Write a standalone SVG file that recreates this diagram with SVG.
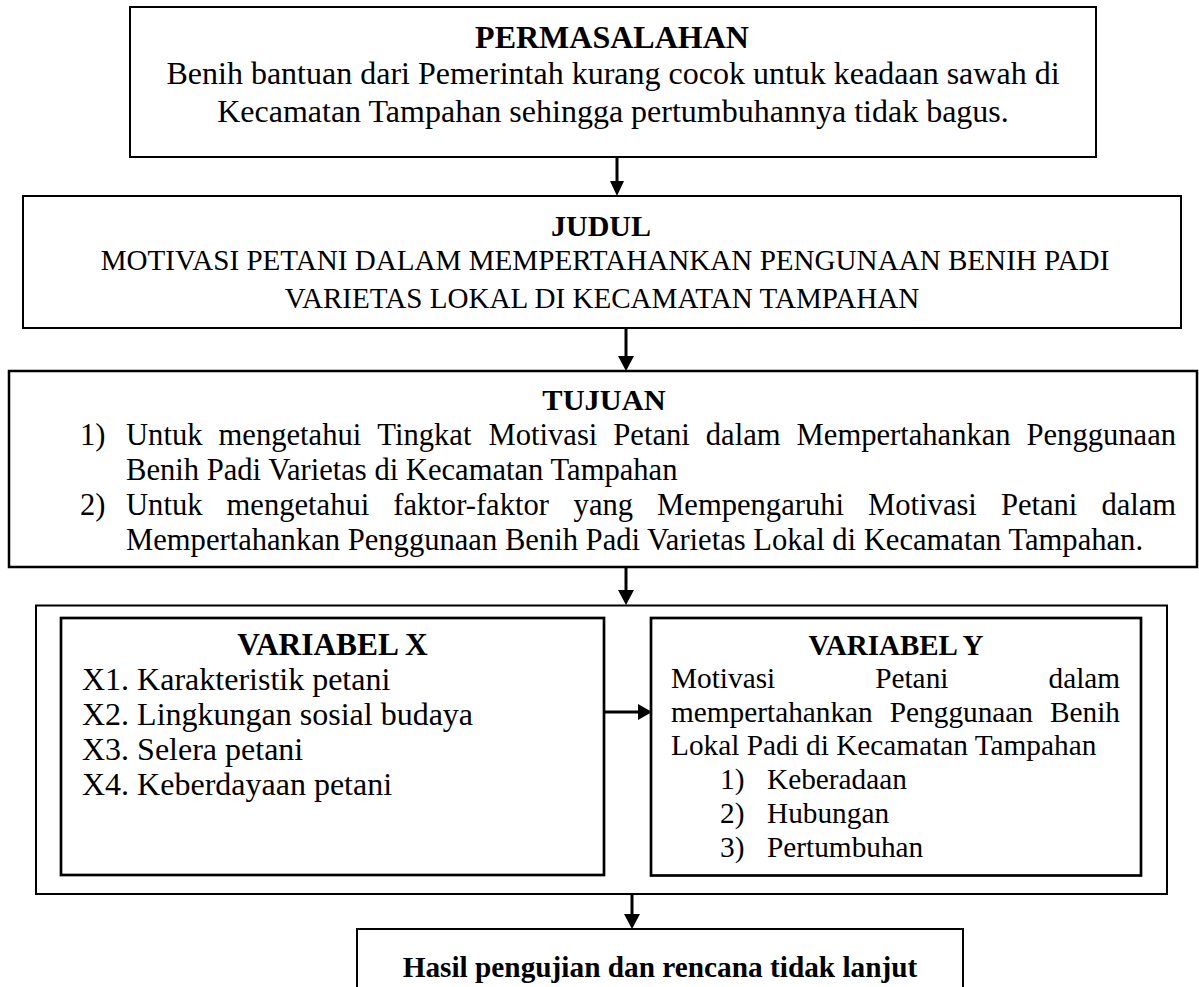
<svg xmlns="http://www.w3.org/2000/svg" width="1199" height="987" viewBox="0 0 1199 987">
<style>
text { font-family: "Liberation Serif", "Times New Roman", serif; fill: #000; }
.b { font-weight: bold; }
.c { text-anchor: middle; }
.box { fill: #fff; stroke: #000; }
.shaft { stroke: #000; stroke-width: 3; fill: none; }
.head { fill: #000; }
</style>
<rect x="0" y="0" width="1199" height="987" fill="#fff"/>

<g id="permasalahan">
<rect class="box" x="130" y="7" width="966" height="150" stroke-width="2"/>
<text class="b c" x="612" y="48" font-size="32">PERMASALAHAN</text>
<text class="c" x="613" y="84" font-size="32">Benih bantuan dari Pemerintah kurang cocok untuk keadaan sawah di</text>
<text class="c" x="613" y="122" font-size="32">Kecamatan Tampahan sehingga pertumbuhannya tidak bagus.</text>
</g>

<g id="judul">
<rect class="box" x="23" y="196" width="1158" height="132" stroke-width="2"/>
<text class="b c" x="601" y="236" font-size="30">JUDUL</text>
<text class="c" x="605" y="270" font-size="29.1">MOTIVASI PETANI DALAM MEMPERTAHANKAN PENGUNAAN BENIH PADI</text>
<text class="c" x="602" y="308" font-size="29.1">VARIETAS LOKAL DI KECAMATAN TAMPAHAN</text>
</g>

<g id="tujuan">
<rect class="box" x="9" y="371" width="1188" height="196" stroke-width="2.5"/>
<text class="b c" x="604" y="410" font-size="30.4">TUJUAN</text>
<text x="80" y="445" font-size="30.6">1)</text>
<text y="445" font-size="30.6"><tspan x="126">Untuk</tspan><tspan x="218.5">mengetahui</tspan><tspan x="377.3">Tingkat</tspan><tspan x="488.5">Motivasi</tspan><tspan x="613.3">Petani</tspan><tspan x="705.8">dalam</tspan><tspan x="796.6">Mempertahankan</tspan><tspan x="1026.5">Penggunaan</tspan></text>
<text x="126" y="480" font-size="30.6">Benih Padi Varietas di Kecamatan Tampahan</text>
<text x="80" y="515" font-size="30.6">2)</text>
<text y="515" font-size="30.6"><tspan x="126">Untuk</tspan><tspan x="226.5">mengetahui</tspan><tspan x="393.3">faktor-faktor</tspan><tspan x="573.6">yang</tspan><tspan x="657.1">Mempengaruhi</tspan><tspan x="868.1">Motivasi</tspan><tspan x="1000.9">Petani</tspan><tspan x="1101.4">dalam</tspan></text>
<text x="126" y="550" font-size="30.6">Mempertahankan Penggunaan Benih Padi Varietas Lokal di Kecamatan Tampahan.</text>
</g>

<g id="variabel">
<rect class="box" x="36" y="605.5" width="1131" height="288.5" stroke-width="2"/>
</g>

<g id="variabel-x">
<rect class="box" x="61" y="618" width="543" height="257" stroke-width="2.7"/>
<text class="b c" x="332.5" y="655" font-size="31.4">VARIABEL X</text>
<text x="82" y="690" font-size="32">X1. Karakteristik petani</text>
<text x="82" y="725" font-size="32">X2. Lingkungan sosial budaya</text>
<text x="82" y="760" font-size="32">X3. Selera petani</text>
<text x="82" y="795" font-size="32">X4. Keberdayaan petani</text>
</g>

<g id="variabel-y">
<rect class="box" x="651" y="618" width="490" height="257.5" stroke-width="2.7"/>
<text class="b c" x="896" y="655" font-size="29">VARIABEL Y</text>
<text y="688" font-size="29.3"><tspan x="671">Motivasi</tspan><tspan x="875.2">Petani</tspan><tspan x="1048.5">dalam</tspan></text>
<text y="722" font-size="29.3"><tspan x="671">mempertahankan</tspan><tspan x="889.8">Penggunaan</tspan><tspan x="1050">Benih</tspan></text>
<text x="671" y="755" font-size="29.3">Lokal Padi di Kecamatan Tampahan</text>
<text x="720" y="789" font-size="29.3">1)</text>
<text x="767" y="789" font-size="29.3">Keberadaan</text>
<text x="720" y="823" font-size="29.3">2)</text>
<text x="767" y="823" font-size="29.3">Hubungan</text>
<text x="720" y="857" font-size="29.3">3)</text>
<text x="767" y="857" font-size="29.3">Pertumbuhan</text>
</g>

<g id="hasil">
<rect class="box" x="357" y="929" width="606" height="80" stroke-width="2"/>
<text class="b c" x="660" y="977" font-size="29.3">Hasil pengujian dan rencana tidak lanjut</text>
</g>

<g id="connectors">
<line class="shaft" x1="617" y1="158" x2="617" y2="183"/>
<polygon class="head" points="610,181 624,181 617,196"/>
<line class="shaft" x1="626" y1="329" x2="626" y2="358"/>
<polygon class="head" points="618,356 634,356 626,371"/>
<line class="shaft" x1="626" y1="568" x2="626" y2="592"/>
<polygon class="head" points="618,590 634,590 626,605"/>
<line class="shaft" x1="605" y1="712" x2="640" y2="712"/>
<polygon class="head" points="638,704 638,720 652,712"/>
<line class="shaft" x1="632" y1="895" x2="632" y2="916"/>
<polygon class="head" points="624,914 640,914 632,929"/>
</g>
</svg>
